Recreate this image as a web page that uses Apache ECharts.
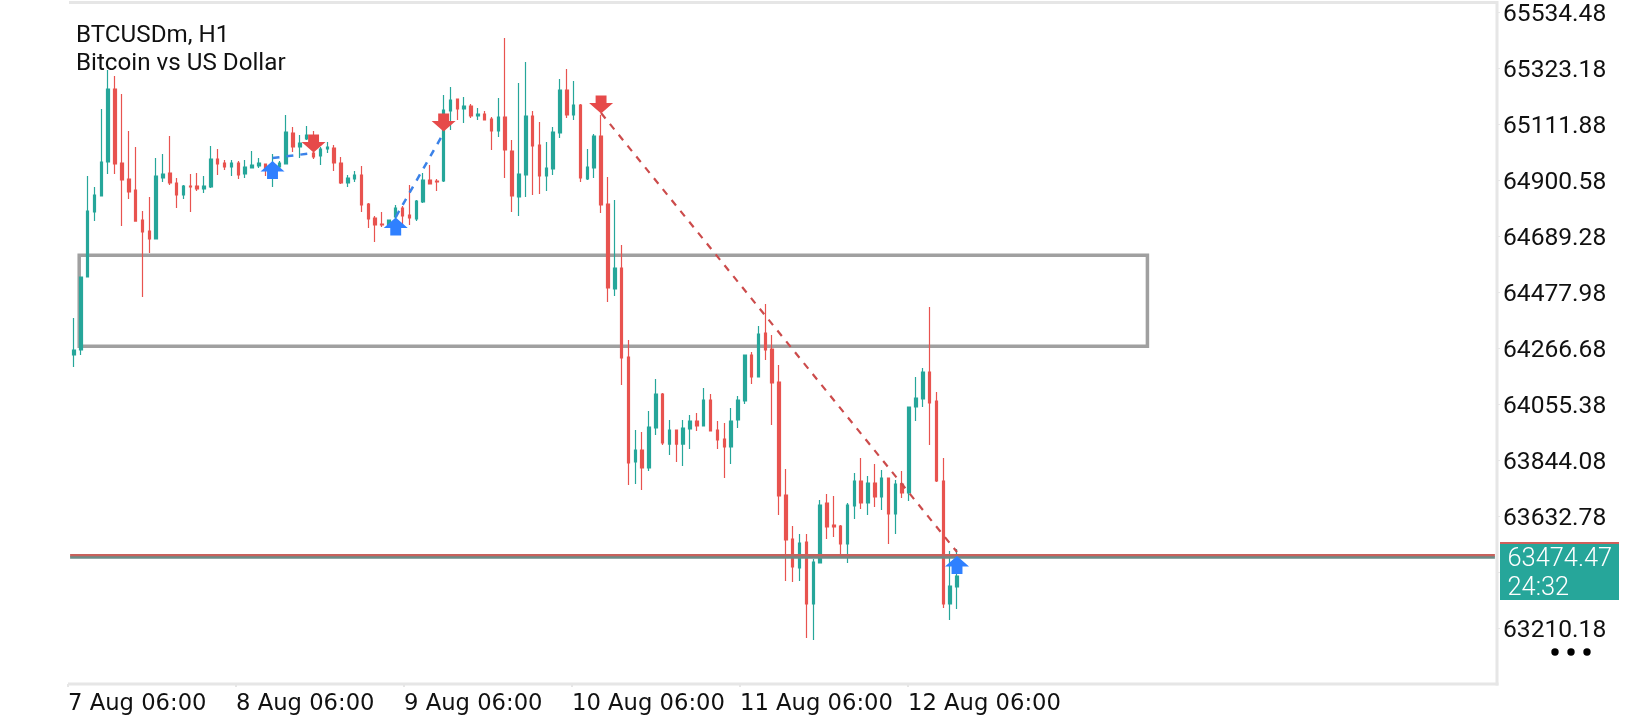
<!DOCTYPE html>
<html><head><meta charset="utf-8">
<style>html,body{margin:0;padding:0;background:#fff}#c{width:1640px;height:720px}</style>
<script src="https://cdn.jsdelivr.net/npm/echarts@6/dist/echarts.min.js"></script>
</head><body><div id="c"></div>
<script>
const priceTicks=[63210.18,63421.48,63632.78,63844.08,64055.38,64266.68,64477.98,64689.28,64900.58,65111.88,65323.18,65534.48];
const hiddenTick=63421.48;
const timeTickHours=[0,24,48,72,96,120];
const timeTickLabels=['7 Aug 06:00','8 Aug 06:00','9 Aug 06:00','10 Aug 06:00','11 Aug 06:00','12 Aug 06:00'];
const opens=[64241.4,64260.3,64535.7,64780.9,64841.3,64969.6,65245.0,64965.8,64905.4,64863.9,64750.7,64709.2,64679.1,64909.2,64928.1,64890.3,64845.1,64879.0,64879.0,64867.7,64875.3,64980.9,64965.8,64950.7,64965.8,64924.3,64946.9,64954.5,64962.0,64931.8,64950.7,64962.0,65079.0,65026.2,65056.4,65003.5,64992.2,65018.6,65022.4,64965.8,64890.3,64905.4,64920.5,64811.1,64758.3,64735.6,64731.9,64762.0,64796.0,64769.6,64754.5,64818.7,64901.7,64897.9,64897.9,65162.0,65207.3,65169.5,65180.9,65143.1,65150.7,65131.8,65086.5,65139.4,65011.1,64837.5,64920.5,65143.1,65033.7,64916.8,64943.2,65079.0,65241.2,65146.9,65184.6,64905.4,64946.9,65067.7,64811.1,64490.4,64569.6,64233.9,63837.7,63882.9,63815.0,63965.9,64094.2,63905.5,63958.4,63905.5,63962.2,63992.4,63973.5,64071.6,63958.4,63924.4,63894.3,63996.1,64067.8,64241.4,64158.4,64324.4,64264.0,64139.5,63713.2,63547.2,63437.8,63535.9,63302.0,63456.7,63683.0,63600.0,63596.2,63528.3,63671.7,63766.0,63683.0,63758.5,63705.6,63777.3,63641.5,63754.7,63720.7,64045.2,64075.4,64177.2,64067.8,63766.0,63302.0,63366.1];
const closes=[64260.3,64535.7,64784.7,64845.1,64969.6,65245.0,64962.0,64901.7,64856.4,64746.9,64705.5,64679.1,64916.8,64924.3,64890.3,64845.1,64879.0,64875.3,64867.7,64879.0,64980.9,64962.0,64950.7,64965.8,64920.5,64950.7,64958.3,64965.8,64943.2,64958.3,64965.8,65082.8,65026.2,65041.3,65071.4,64988.4,65018.6,65026.2,64965.8,64890.3,64909.2,64920.5,64807.3,64754.5,64731.9,64731.9,64750.7,64796.0,64765.8,64758.3,64822.4,64901.7,64886.6,64894.1,65165.8,65203.5,65169.5,65180.9,65143.1,65150.7,65128.0,65086.5,65139.4,65014.9,64841.3,64924.3,65143.1,65030.0,64916.8,64946.9,65082.8,65241.2,65146.9,65184.6,64909.2,64950.7,65067.7,64807.3,64494.2,64569.6,64230.1,63833.9,63882.9,63815.0,63969.7,64094.2,63909.3,63958.4,63905.5,63965.9,63992.4,63973.5,64071.6,63954.6,63920.7,63894.3,63992.4,64071.6,64241.4,64158.4,64320.6,64260.3,64135.7,63709.4,63543.4,63441.6,63532.1,63302.0,63460.5,63675.5,63592.5,63592.5,63528.3,63675.5,63766.0,63683.0,63758.5,63705.6,63777.3,63641.5,63754.7,63720.7,64045.2,64079.1,64177.2,64060.3,63766.0,63302.0,63369.9,63407.6];
const lows=[64196.1,64241.4,64535.7,64746.9,64841.3,64924.3,64924.3,64728.1,64830.0,64746.9,64460.2,64626.2,64679.1,64894.1,64882.8,64796.0,64830.0,64780.9,64860.2,64852.6,64871.5,64920.5,64939.4,64916.8,64905.4,64909.2,64946.9,64946.9,64916.8,64875.3,64946.9,64962.0,65007.3,64984.7,65052.6,64980.9,64958.3,65003.5,64935.6,64886.6,64875.3,64894.1,64780.9,64720.5,64667.7,64724.3,64731.9,64754.5,64731.9,64731.9,64746.9,64814.9,64886.6,64860.2,64894.1,65090.3,65128.0,65116.7,65135.6,65128.0,65128.0,65014.9,65063.9,64909.2,64780.9,64765.8,64837.5,64845.1,64848.8,64860.2,64920.5,65060.1,65135.6,65128.0,64894.1,64901.7,64909.2,64777.1,64441.4,64464.0,64128.2,63750.9,63754.7,63732.0,63803.7,63939.5,63901.8,63864.1,63837.7,63822.6,63886.7,63954.6,63973.5,63954.6,63886.7,63777.3,63830.1,63965.9,64056.5,64131.9,64158.4,64222.5,63977.3,63637.7,63388.8,63385.0,63388.8,63173.6,63166.0,63456.7,63547.2,63554.8,63479.3,63456.7,63622.7,63660.4,63637.7,63667.9,63656.6,63528.3,63566.1,63701.9,63690.5,63992.4,64045.2,63901.8,63762.2,63286.9,63241.6,63283.1];
const highs=[64381.0,64535.7,64916.8,64875.3,65169.5,65316.7,65294.0,65226.1,65086.5,65026.2,64784.7,64837.5,64984.7,64999.8,65067.7,64909.2,64882.8,64924.3,64928.1,64916.8,65030.0,65018.6,64977.1,64977.1,64973.3,64977.1,65011.1,64984.7,64962.0,64999.8,64973.3,65146.9,65101.6,65071.4,65105.4,65086.5,65026.2,65045.0,65033.7,64988.4,64920.5,64935.6,64954.5,64814.9,64765.8,64780.9,64750.7,64807.3,64803.6,64882.8,64826.2,64928.1,64958.3,64905.4,65222.4,65252.5,65207.3,65214.8,65188.4,65173.3,65162.0,65139.4,65211.0,65437.4,65052.6,65267.6,65346.9,65162.0,65120.5,65045.0,65101.6,65282.7,65320.5,65275.2,65188.4,65018.6,65075.2,65146.9,64913.0,64826.2,64656.4,64298.0,63958.4,63950.9,64030.1,64150.8,64098.0,63996.1,63958.4,63996.1,64015.0,64022.6,64116.9,64094.2,63992.4,63984.8,64041.4,64086.7,64241.4,64252.7,64350.8,64433.8,64316.8,64203.7,63811.3,63596.2,63566.1,63566.1,63471.8,63694.3,63717.0,63709.4,63600.0,63683.0,63796.2,63852.8,63784.9,63830.1,63807.5,63777.3,63769.8,63803.7,64045.2,64158.4,64192.3,64422.5,64101.8,63852.8,63501.9,63509.5];
const upArrows=[[29,64939.4],[47,64726.2],[129,63449.0]];
const downArrows=[[35,65039.4],[54,65118.6],[77,65186.5]];
const blueTrends=[[[29,64984.7],[35,65003.5]],[[47,64762.0],[54,65079.0]]];
const redTrend=[[77,65154.4],[129,63498.0]];
const zoneHours=[1.6,154.2];
const zonePrices=[64617.6,64274.2];
const bidPrice=63476.6;
const askPrice=63484.0;
const priceLabel='63474.47\n24:32';
const titleText='BTCUSDm, H1\nBitcoin vs US Dollar';

const UP='#26a69a',DOWN='#e8534f',FRAME='#e6e6e6',GREY='#a0a0a0';
const slots=208;
const cats=[];for(let i=0;i<slots;i++)cats.push(String(i));
const candles=opens.map((o,i)=>[o,closes[i],lows[i],highs[i]]);
const yMin=63000.1,yMax=65571.4,hourMax=204.14;
const arrowUp='path://M11,0 L22,10 L16,10 L16,17 L6,17 L6,10 L0,10 Z';
const arrowDown='path://M6,0 L16,0 L16,7 L22,7 L11,17 L0,7 L6,7 Z';
const chart=echarts.init(document.getElementById('c'),null,{renderer:'canvas'});
chart.setOption({
 animation:false,backgroundColor:'#fff',
 title:{text:titleText,left:71,top:17,itemGap:0,textStyle:{fontFamily:'Roboto',fontWeight:'normal',fontSize:24.2,lineHeight:28,color:'#111'}},
 grid:[{left:70.58,top:2.5,width:slots*6.845,height:681.5},{left:68,top:2.5,width:1429,height:681.5}],
 xAxis:[
  {type:'category',gridIndex:0,data:cats,axisLine:{show:false},axisTick:{show:false},axisLabel:{show:false},splitLine:{show:false}},
  {type:'value',gridIndex:1,min:0,max:hourMax,position:'bottom',axisLine:{show:false,onZero:false},splitLine:{show:false},
   axisTick:{show:true,length:3,customValues:timeTickHours,lineStyle:{color:FRAME,width:2}},
   axisLabel:{show:true,customValues:timeTickHours,align:'left',margin:9,fontFamily:'DejaVu Sans',fontSize:22.7,color:'#111',
    formatter:v=>timeTickLabels[timeTickHours.indexOf(v)]||''}}
 ],
 yAxis:[
  {type:'value',gridIndex:0,min:yMin,max:yMax,show:false},
  {type:'value',gridIndex:1,min:yMin,max:yMax,position:'right',axisLine:{show:false,onZero:false},splitLine:{show:false},
   axisTick:{show:true,length:3,customValues:priceTicks,lineStyle:{color:FRAME,width:1}},
   axisLabel:{show:true,customValues:priceTicks.filter(v=>v!==hiddenTick),margin:6,verticalAlign:'top',lineHeight:6,fontFamily:'Roboto',fontSize:24.6,color:'#111',formatter:v=>v.toFixed(2)}}
 ],
 series:[
  {type:'line',xAxisIndex:1,yAxisIndex:1,data:[],z:1,silent:true,
   markArea:{silent:true,z:1,itemStyle:{color:'rgba(0,0,0,0)',borderColor:GREY,borderWidth:3.5},
    data:[[{coord:[zoneHours[0],zonePrices[0]]},{coord:[zoneHours[1],zonePrices[1]]}]]}},
  {type:'candlestick',xAxisIndex:0,yAxisIndex:0,data:candles,barWidth:3,z:3,
   itemStyle:{color:UP,color0:DOWN,borderColor:UP,borderColor0:DOWN,borderWidth:1.2},
   markLine:{silent:true,symbol:'none',z:4,label:{show:false},
    data:[
     ...blueTrends.map(t=>[{coord:t[0],lineStyle:{color:'#3b82e8',type:[7,7],width:2.5}},{coord:t[1]}]),
     [{coord:redTrend[0],lineStyle:{color:'#cc4b4b',type:[7,7],width:2.2}},{coord:redTrend[1]}]
    ]},
   markPoint:{silent:true,z:6,label:{show:false},
    data:[
     ...upArrows.map(a=>({coord:a,symbol:arrowUp,symbolSize:[24,18],itemStyle:{color:'#2f80ff'}})),
     ...downArrows.map(a=>({coord:a,symbol:arrowDown,symbolSize:[24,18],itemStyle:{color:'#e64a4a'}}))
    ]}},
  {type:'line',xAxisIndex:1,yAxisIndex:1,data:[],z:5,silent:true,
   markLine:{silent:true,symbol:'none',z:5,label:{show:false},
    data:[
     [{coord:[0.3,askPrice],lineStyle:{color:'#c7615c',type:'solid',width:3}},{coord:[hourMax-0.3,askPrice]}],
     [{coord:[0.3,bidPrice],lineStyle:{color:'#6b8d88',type:'solid',width:2.5}},{coord:[hourMax-0.3,bidPrice]}]
    ]}}
 ],
 graphic:[
  {type:'rect',silent:true,z:0,shape:{x:69,y:1,width:1429,height:3},style:{fill:FRAME}},
  {type:'rect',silent:true,z:0,shape:{x:1495.5,y:1,width:3,height:684.5},style:{fill:FRAME}},
  {type:'rect',silent:true,z:0,shape:{x:68,y:682.5,width:1430.5,height:3},style:{fill:FRAME}},
  {type:'rect',silent:true,z:10,shape:{x:1500,y:544,width:119,height:56},style:{fill:UP}},
  {type:'rect',silent:true,z:10,shape:{x:1500,y:542,width:119,height:2},style:{fill:'#d0605c'}},
  {type:'text',silent:true,z:11,x:1507.5,y:545,style:{text:priceLabel,fill:'#fff',font:'300 25.4px Roboto',lineHeight:29}},
  {type:'circle',silent:true,z:10,shape:{cx:1555,cy:652,r:3.7},style:{fill:'#000'}},
  {type:'circle',silent:true,z:10,shape:{cx:1571,cy:652,r:3.7},style:{fill:'#000'}},
  {type:'circle',silent:true,z:10,shape:{cx:1587,cy:652,r:3.7},style:{fill:'#000'}}
 ]
});
</script></body></html>
